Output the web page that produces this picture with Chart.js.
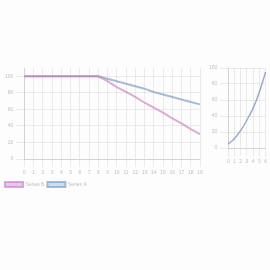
<!DOCTYPE html>
<html>
<head>
<meta charset="utf-8">
<script src="https://cdn.jsdelivr.net/npm/chart.js@4/dist/chart.umd.min.js"></script>
<style>
  body { margin: 0; background: #fdfdfd; width: 270px; height: 270px; overflow: hidden; font-family: "DejaVu Sans", sans-serif; }
  #left { position: absolute; left: 2px; top: 62px; width: 206px; height: 135px; }
  #right { position: absolute; left: 206px; top: 62px; width: 64px; height: 106px; }
</style>
</head>
<body>
<div id="left"><canvas id="leftChart"></canvas></div>
<div id="right"><canvas id="rightChart"></canvas></div>
<script>
// left panel
const steps = ['0','1','2','3','4','5','6','7','8','9','10','11','12','13','14','15','16','17','18','19'];
const seriesA = [100,100,100,100,100,100,100,100,100,97,94,91,88,85,81,78,75,72,69,66];
const seriesB = [100,100,100,100,100,100,100,100,100,94,87,81,75,68,62,56,49,43,36,30];
const yTicks = [0,20,40,60,80,100];

// right panel
const rightX = ['0','1','2','3','4','5','6'];
const rightY = [5,12,22,35,50,70,95];

const faint = '#c0c0c0';
const grid = 'rgba(0,0,0,0.07)';

new Chart(document.getElementById('leftChart'), {
  type: 'line',
  data: {
    labels: steps,
    datasets: [
      {
        label: 'Series A',
        data: seriesA,
        order: 1,
        borderColor: 'rgba(120,155,195,0.65)',
        backgroundColor: 'rgba(170,200,235,0.6)',
        borderWidth: 2,
        pointRadius: 0,
        tension: 0
      },
      {
        label: 'Series B',
        data: seriesB,
        order: 0,
        borderColor: 'rgba(205,115,185,0.6)',
        backgroundColor: 'rgba(200,170,235,0.6)',
        borderWidth: 2,
        pointRadius: 0,
        tension: 0
      }
    ]
  },
  options: {
    responsive: true,
    maintainAspectRatio: false,
    animation: false,
    layout: { padding: { top: 6, right: 8 } },
    plugins: {
      legend: {
        position: 'bottom',
        align: 'start',
        labels: { boxWidth: 18, boxHeight: 5, font: { size: 5 }, color: faint, padding: 3 }
      }
    },
    scales: {
      x: {
        grid: { color: grid },
        ticks: { font: { size: 5 }, color: faint, maxRotation: 0 }
      },
      y: {
        min: 0,
        max: 110,
        grid: { color: grid },
        afterBuildTicks: (axis) => { axis.ticks = yTicks.map(v => ({ value: v })); },
        ticks: { font: { size: 5 }, color: faint }
      }
    }
  }
});

new Chart(document.getElementById('rightChart'), {
  type: 'line',
  data: {
    labels: rightX,
    datasets: [{
      label: 'Curve',
      data: rightY,
      borderColor: 'rgba(100,130,170,0.65)',
      borderWidth: 1.5,
      pointRadius: 0,
      tension: 0.4,
      cubicInterpolationMode: 'monotone'
    }]
  },
  options: {
    responsive: true,
    maintainAspectRatio: false,
    animation: false,
    layout: { padding: { top: 4 } },
    plugins: { legend: { display: false } },
    scales: {
      x: { grid: { color: grid }, ticks: { font: { size: 5 }, color: faint, maxRotation: 0 } },
      y: { min: 0, max: 100, grid: { color: grid }, ticks: { font: { size: 5 }, color: faint } }
    }
  }
});
</script>
</body>
</html>
